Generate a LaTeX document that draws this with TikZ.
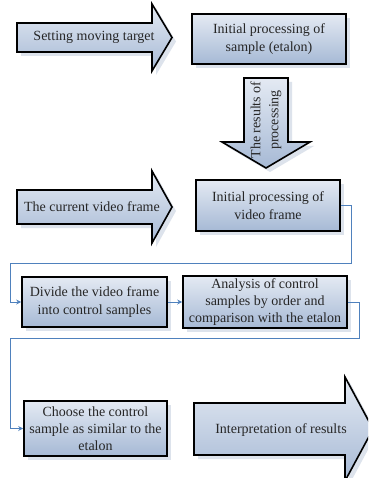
\documentclass[tikz,border=0pt]{standalone}
\usepackage{fontspec}
\setmainfont{Liberation Serif}
\usetikzlibrary{arrows.meta,shadows}
\definecolor{topc}{HTML}{E4EAF3}
\definecolor{botc}{HTML}{A6B9D5}
\definecolor{shad}{HTML}{DDE3EC}
\definecolor{connc}{HTML}{4F81BD}
\tikzset{
  shapefill/.style={top color=topc,bottom color=botc,draw=black,line width=1.6pt,line join=miter,
    drop shadow={shadow xshift=4pt,shadow yshift=-4pt,fill=shad,opacity=1}},
  box/.style={shapefill,rectangle,inner sep=2pt,align=center,
    font=\fontsize{14}{18}\selectfont,text=black!85},
  lbl/.style={font=\fontsize{14}{18}\selectfont,align=center,inner sep=0pt,text=black!85},
  conn/.style={draw=connc,line width=1pt,-{Stealth[length=5pt,width=5pt]}},
}
\begin{document}
\begin{tikzpicture}[x=1pt,y=-1pt]
\useasboundingbox (0,0) rectangle (368,478);
\clip (0,0) rectangle (368,478);
\fill[white] (0,0) rectangle (368,478);
% arrow 1
\path[shapefill] (17,23) -- (152,23) -- (152,4) -- (172,37.5) -- (152,71) -- (152,52) -- (17,52) -- cycle;
\node[lbl] (a1) at (94,37.5) {Setting moving target};
% box 1
\node[box,minimum width=154pt,minimum height=50pt] (b1) at (269,39) {Initial processing of\\sample (etalon)};
% down arrow
\path[shapefill] (244,78) -- (288,78) -- (288,142) -- (310,142) -- (266,168) -- (222,142) -- (244,142) -- cycle;
\node[lbl,rotate=90] (a2) at (266,120) {The results of\\processing};
% arrow 2
\path[shapefill] (17,190) -- (152,190) -- (152,171) -- (172,207) -- (152,243) -- (152,224) -- (17,224) -- cycle;
\node[lbl] (a3) at (92,207) {The current video frame};
% box 2
\node[box,minimum width=144pt,minimum height=51pt] (b2) at (268,205.5) {Initial processing of\\video frame};
% box 3, 4
\node[box,minimum width=145pt,minimum height=50pt] (b3) at (94.5,302) {Divide the video frame\\into control samples};
\node[box,minimum width=164pt,minimum height=52pt,inner sep=0pt,font=\fontsize{14}{17}\selectfont] (b4) at (265,302) {Analysis of control\\samples by order and\\comparison with the etalon};
% box 5
\node[box,minimum width=143pt,minimum height=55pt,inner sep=0pt,font=\fontsize{14}{17}\selectfont] (b5) at (95.5,428.5) {Choose the control\\sample as similar to the\\etalon};
% interpretation arrow
\path[shapefill] (194,403) -- (345,403) -- (345,377) -- (373,429) -- (345,481) -- (345,455) -- (194,455) -- cycle;
\node[lbl] (a4) at (281,430) {Interpretation of results};
% connectors
\coordinate (k1) at (351,263);
\coordinate (k2) at (10,263);
\coordinate (k3) at (359,338);
\coordinate (k4) at (10,338);
\draw[conn] (b2.east) -| (k1) -- (k2) |- (b3.west);
\draw[conn] (b3.east) -- (b4.west);
\draw[conn] (b4.east) -| (k3) -- (k4) |- (b5.west);
\end{tikzpicture}
\end{document}
